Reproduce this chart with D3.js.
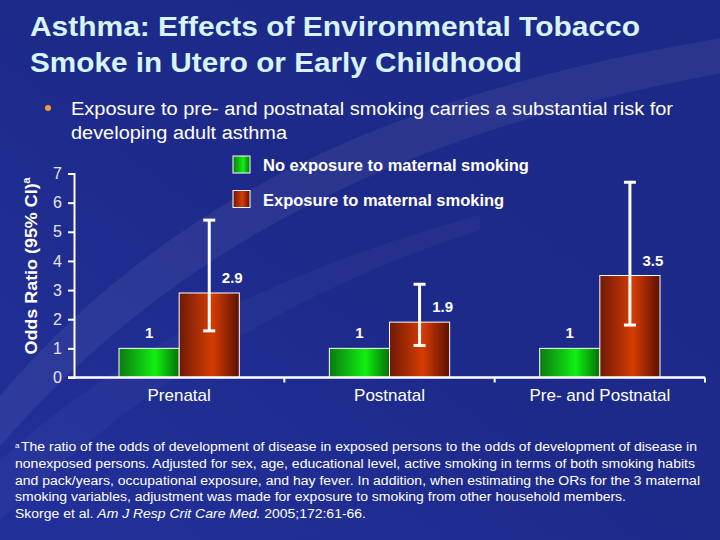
<!DOCTYPE html>
<html>
<head>
<meta charset="utf-8">
<script src="https://cdn.jsdelivr.net/npm/d3@7"></script>
<style>
  body { margin: 0; background: #1e2a8a; }
  svg { display: block; font-family: "Liberation Sans", Arial, Helvetica, sans-serif; }
</style>
</head>
<body>
<svg id="chart" width="720" height="540"></svg>
<script>
// chart data
const categories = ["Prenatal", "Postnatal", "Pre- and Postnatal"]
const seriesNames = ["No exposure to maternal smoking", "Exposure to maternal smoking"]
const noExposure = [1, 1, 1]
const exposure = [2.9, 1.9, 3.5]
const ciLow = [1.6, 1.1, 1.8]
const ciHigh = [5.4, 3.2, 6.7]
const yTicks = [0, 1, 2, 3, 4, 5, 6, 7]
const footnote = [
    "The ratio of the odds of development of disease in exposed persons to the odds of development of disease in",
    "nonexposed persons. Adjusted for sex, age, educational level, active smoking in terms of both smoking habits",
    "and pack/years, occupational exposure, and hay fever. In addition, when estimating the ORs for the 3 maternal",
    "smoking variables, adjustment was made for exposure to smoking from other household members."
]

const svg = d3.select("#chart")
const defs = svg.append("defs")

// background
const bg = defs.append("linearGradient").attr("id", "bg")
    .attr("x1", 0).attr("y1", 1).attr("x2", 1).attr("y2", 0)
bg.append("stop").attr("offset", "0%").attr("stop-color", "#22309a")
bg.append("stop").attr("offset", "50%").attr("stop-color", "#1e2a8a")
bg.append("stop").attr("offset", "100%").attr("stop-color", "#1d2987")
svg.append("rect").attr("width", 720).attr("height", 540).attr("fill", "url(#bg)")
// faint swooshes
svg.append("path")
    .attr("d", "M -20,470 C 120,300 330,140 740,70 L 740,35 C 360,95 140,220 -20,420 Z")
    .attr("fill", "#ffffff").attr("opacity", 0.06)
svg.append("path")
    .attr("d", "M -20,540 C 100,420 260,300 480,230 L 480,215 C 240,280 80,380 -20,480 Z")
    .attr("fill", "#ffffff").attr("opacity", 0.03)

// bar gradients
function barGradient(id, stops) {
    const g = defs.append("linearGradient").attr("id", id)
        .attr("x1", 0).attr("y1", 0).attr("x2", 1).attr("y2", 0)
    stops.forEach(s => g.append("stop").attr("offset", s[0]).attr("stop-color", s[1]))
}
barGradient("gGreen", [["0%", "#0b7a12"], ["60%", "#10f010"], ["100%", "#07700a"]])
barGradient("gRed", [["0%", "#6e1a06"], ["55%", "#d63c02"], ["100%", "#5c1004"]])
const fills = ["url(#gGreen)", "url(#gRed)"]

// title
const titleColor = "#d6f4fa"
svg.append("text").attr("x", 30).attr("y", 36)
    .attr("fill", titleColor).style("font-size", "27px").style("font-weight", "bold")
    .attr("textLength", 610).attr("lengthAdjust", "spacingAndGlyphs")
    .text("Asthma: Effects of Environmental Tobacco")
svg.append("text").attr("x", 30).attr("y", 72)
    .attr("fill", titleColor).style("font-size", "27px").style("font-weight", "bold")
    .attr("textLength", 492).attr("lengthAdjust", "spacingAndGlyphs")
    .text("Smoke in Utero or Early Childhood")

// bullet
svg.append("circle").attr("cx", 48).attr("cy", 108).attr("r", 3).attr("fill", "#f0a030")
svg.append("text").attr("x", 71).attr("y", 115)
    .attr("fill", "#fff").style("font-size", "18px")
    .attr("textLength", 602).attr("lengthAdjust", "spacingAndGlyphs")
    .text("Exposure to pre- and postnatal smoking carries a substantial risk for")
svg.append("text").attr("x", 71).attr("y", 139)
    .attr("fill", "#fff").style("font-size", "18px")
    .attr("textLength", 216).attr("lengthAdjust", "spacingAndGlyphs")
    .text("developing adult asthma")

// scales
const y = d3.scaleLinear().domain([0, 7]).range([377.5, 173.5])
const x0 = d3.scaleBand().domain(categories).range([74, 705])
    .paddingInner(0.428).paddingOuter(0.214)
const x1 = d3.scaleBand().domain(seriesNames).range([0, x0.bandwidth()])

// y axis
const yAxis = svg.append("g").attr("transform", "translate(74,0)")
    .call(d3.axisLeft(y).tickValues(yTicks).tickFormat(d3.format("d")).tickSize(6).tickPadding(6))
yAxis.select(".domain").attr("stroke", "#fff").attr("stroke-width", 2)
yAxis.selectAll(".tick line").attr("stroke", "#fff").attr("stroke-width", 2)
yAxis.selectAll(".tick text").attr("fill", "#e4e4ee").style("font-size", "16px")
    .style("font-family", "Liberation Sans, Arial, sans-serif")

svg.append("text")
    .attr("transform", "translate(37,266) rotate(-90)")
    .attr("text-anchor", "middle").attr("fill", "#fff")
    .style("font-size", "17px").style("font-weight", "bold")
    .attr("textLength", 177).attr("lengthAdjust", "spacingAndGlyphs")
    .text("Odds Ratio (95% CI)")
    .append("tspan").attr("dy", -7).style("font-size", "10px").text("a")

// bars
const rows = categories.map((c, i) => ({ cat: c, values: [noExposure[i], exposure[i]], lo: ciLow[i], hi: ciHigh[i] }))
const groups = svg.append("g").selectAll("g").data(rows).enter().append("g")
    .attr("transform", d => "translate(" + x0(d.cat) + ",0)")

groups.selectAll("rect")
    .data(d => d.values.map((v, j) => ({ name: seriesNames[j], v: v, j: j })))
    .enter().append("rect")
    .attr("x", d => x1(d.name))
    .attr("y", d => y(d.v))
    .attr("width", x1.bandwidth())
    .attr("height", d => y(0) - y(d.v))
    .attr("fill", d => fills[d.j])
    .attr("stroke", "#fff").attr("stroke-width", 1)

// value labels
groups.selectAll("text.val")
    .data(d => d.values.map((v, j) => ({ name: seriesNames[j], v: v, j: j })))
    .enter().append("text").attr("class", "val")
    .attr("x", d => x1(d.name) + x1.bandwidth() / 2 + (d.j === 1 ? 23 : 0))
    .attr("y", d => y(d.v) - 10)
    .attr("text-anchor", "middle").attr("fill", "#fff")
    .style("font-size", "15px").style("font-weight", "bold")
    .text(d => d.v)

// error bars
const cx = x1(seriesNames[1]) + x1.bandwidth() / 2
groups.append("line")
    .attr("x1", cx).attr("x2", cx)
    .attr("y1", d => y(d.lo)).attr("y2", d => y(d.hi))
    .attr("stroke", "#fff").attr("stroke-width", 3)
groups.selectAll("line.cap")
    .data(d => [d.lo, d.hi]).enter().append("line").attr("class", "cap")
    .attr("x1", cx - 6).attr("x2", cx + 6)
    .attr("y1", d => y(d)).attr("y2", d => y(d))
    .attr("stroke", "#fff").attr("stroke-width", 3)

// x axis
const xAxis = svg.append("g").attr("transform", "translate(0," + y(0) + ")")
    .call(d3.axisBottom(x0).tickSize(0).tickPadding(11))
xAxis.select(".domain").remove()
xAxis.selectAll(".tick text").attr("fill", "#fff").style("font-size", "17px")
    .style("font-family", "Liberation Sans, Arial, sans-serif")
svg.append("line")
    .attr("x1", 68).attr("x2", x0.range()[1])
    .attr("y1", y(0)).attr("y2", y(0))
    .attr("stroke", "#fff").attr("stroke-width", 2.5)
svg.append("g").selectAll("line")
    .data(categories.map((c, i) => x0.range()[0] + (i + 1) * x0.step()))
    .enter().append("line")
    .attr("x1", d => d).attr("x2", d => d)
    .attr("y1", y(0)).attr("y2", y(0) + 5)
    .attr("stroke", "#fff").attr("stroke-width", 2)

// legend
const legend = svg.append("g").selectAll("g").data(seriesNames).enter().append("g")
    .attr("transform", (d, i) => "translate(233," + (156 + i * 34.5) + ")")
legend.append("rect").attr("width", 17).attr("height", 17)
    .attr("fill", (d, i) => fills[i]).attr("stroke", "#fff").attr("stroke-width", 1)
legend.append("text").attr("x", 30).attr("y", 15)
    .attr("fill", "#fff").style("font-size", "16.5px").style("font-weight", "bold")
    .text(d => d)

// footnote
const fnLengths = [676, 680, 685, 611]
const fn = svg.append("g").attr("fill", "#fff").style("font-size", "12.5px")
fn.append("text").attr("x", 15).attr("y", 448).style("font-size", "8px").text("a")
footnote.forEach((line, i) => {
    fn.append("text")
        .attr("x", i === 0 ? 21 : 15).attr("y", 451 + i * 16.8)
        .attr("textLength", fnLengths[i]).attr("lengthAdjust", "spacingAndGlyphs")
        .text(line)
})
const ref = fn.append("text").attr("x", 15).attr("y", 451 + 4 * 16.8)
    .attr("textLength", 351).attr("lengthAdjust", "spacingAndGlyphs")
ref.append("tspan").text("Skorge et al. ")
ref.append("tspan").style("font-style", "italic").text("Am J Resp Crit Care Med.")
ref.append("tspan").text(" 2005;172:61-66.")
</script>
</body>
</html>
